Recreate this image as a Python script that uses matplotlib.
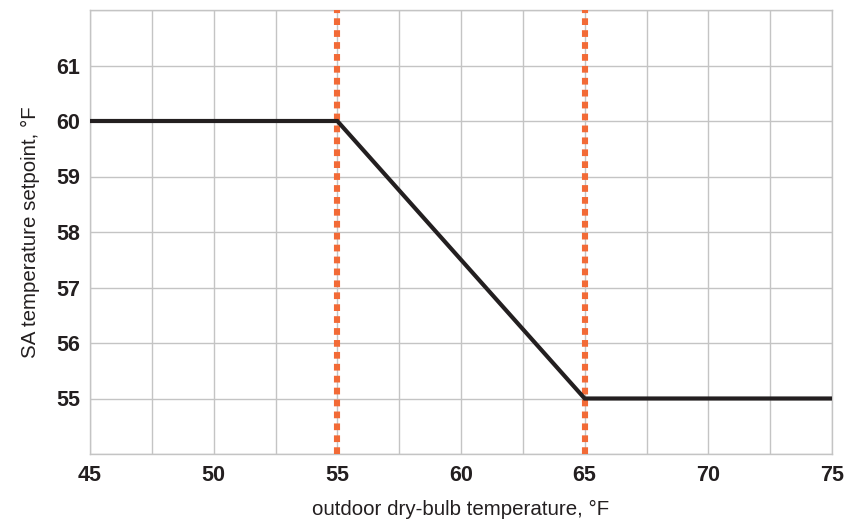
import matplotlib.pyplot as plt
import numpy as np

# reset schedule: outdoor air temp -> SA setpoint
oat = [45, 55, 65, 75]
sat = [60, 60, 55, 55]
limits = [55, 65]

x_ticks = [45, 50, 55, 60, 65, 70, 75]
y_ticks = [55, 56, 57, 58, 59, 60, 61]

plt.rcParams['font.family'] = ['Liberation Sans', 'DejaVu Sans']

fig = plt.figure(figsize=(8.48, 5.19), dpi=100)
ax = fig.add_axes([90 / 848, 1 - 454 / 519, 742 / 848, 444 / 519])

ax.set_xlim(45, 75)
ax.set_ylim(54, 62)
ax.set_xticks(x_ticks)
ax.set_xticks(np.arange(45, 75.1, 2.5), minor=True)
ax.set_yticks(y_ticks)
ax.set_yticks(np.arange(54, 62.1, 1), minor=True)
ax.grid(which='both', color='#c4c4c4', lw=1.0)
ax.set_axisbelow(True)
ax.tick_params(axis='x', which='both', length=0, pad=8)
ax.tick_params(axis='y', which='both', length=0, pad=7)
for lab in ax.get_xticklabels() + ax.get_yticklabels():
    lab.set_fontweight('bold')
    lab.set_fontsize(15.5)
    lab.set_color('#231f20')
for s in ax.spines.values():
    s.set_color('#c4c4c4')
    s.set_linewidth(1.0)

for xv in limits:
    ax.axvline(xv, color='#f26a36', lw=4.4, ls=(0, (1.1, 0.85)), zorder=3)

ax.plot(oat, sat, color='#231f20', lw=3.0, zorder=4, solid_joinstyle='miter')

ax.set_xlabel('outdoor dry-bulb temperature, °F', fontsize=14.8, color='#231f20', labelpad=10)
ax.set_ylabel('SA temperature setpoint, °F', fontsize=14.8, color='#231f20', labelpad=12)

fig.savefig('out.png', dpi=100)
